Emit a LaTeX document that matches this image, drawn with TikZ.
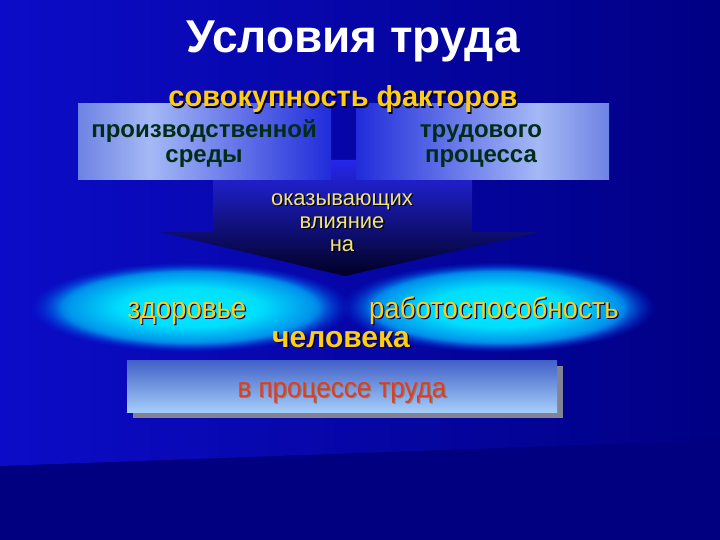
\documentclass[tikz,border=0pt]{standalone}
\usepackage{fontspec}
\usepackage{graphicx}
\usetikzlibrary{fadings}
\setmainfont{Liberation Sans}
\definecolor{bgnavy}{RGB}{0,0,128}
\definecolor{bgtl}{RGB}{12,12,200}
\definecolor{bgtr}{RGB}{0,0,132}
\definecolor{boxedge}{RGB}{110,130,228}
\definecolor{boxlight}{RGB}{165,185,246}
\definecolor{boxblue}{RGB}{32,44,218}
\definecolor{boxtext}{RGB}{0,44,24}
\definecolor{gold}{RGB}{255,205,20}
\definecolor{paleyel}{RGB}{240,228,120}
\definecolor{glowc}{RGB}{0,236,255}
\definecolor{glowi}{RGB}{0,222,252}
\definecolor{glowm}{RGB}{0,150,236}
\definecolor{glowo}{RGB}{0,40,215}
\definecolor{shafttop}{RGB}{38,38,236}
\definecolor{shaftmid}{RGB}{16,16,190}
\definecolor{tipdark}{RGB}{0,0,36}
\definecolor{btop}{RGB}{66,96,200}
\definecolor{bbot}{RGB}{165,205,250}
\definecolor{bshadow}{RGB}{130,132,150}
\definecolor{redtext}{RGB}{226,60,30}
\pgfdeclareradialshading{glow}{\pgfpointorigin}{color(0bp)=(glowc); color(11bp)=(glowi); color(19bp)=(glowm); color(25bp)=(glowo); color(50bp)=(glowo)}
\pgfdeclareradialshading{glowmask}{\pgfpointorigin}{color(0bp)=(pgftransparent!0); color(20bp)=(pgftransparent!0); color(25bp)=(pgftransparent!100); color(50bp)=(pgftransparent!100)}
\pgfdeclarefading{glowfade}{\pgfuseshading{glowmask}}
\newcommand\shd[3][black]{\makebox[0pt][l]{\hspace{1.3pt}\raisebox{-1.3pt}{\textcolor{#1}{#3}}}\textcolor{#2}{#3}}
\tikzset{
  title/.style={font=\fontsize{46}{50}\selectfont\bfseries, text=white, anchor=base, inner sep=0pt},
  headtxt/.style={font=\fontsize{29}{32}\selectfont\bfseries, anchor=base, inner sep=0pt},
  boxtxt/.style={font=\fontsize{24}{25}\selectfont\bfseries, text=boxtext, anchor=base, inner sep=0pt},
  midtxt/.style={font=\fontsize{22}{23}\selectfont, inner sep=0pt, align=center},
  glowtxt/.style={font=\fontsize{30}{32}\selectfont, anchor=base, inner sep=0pt},
  mantxt/.style={font=\fontsize{30}{32}\selectfont\bfseries, anchor=base, inner sep=0pt},
  redtxt/.style={font=\fontsize{28}{30}\selectfont, anchor=base, inner sep=0pt},
  glowshape/.style={shading=glow, path fading=glowfade},
}
\begin{document}
\begin{tikzpicture}[x=1pt,y=-1pt]
\useasboundingbox (0,0) rectangle (720,540);
% background
\fill[bgnavy] (0,0) rectangle (720,540);
\shade[left color=bgtl, right color=bgtr] (0,0) -- (720,0) -- (720,440) -- (0,466) -- cycle;
% arrow
\shade[top color=shafttop, middle color=shaftmid, bottom color=tipdark]
  (213,160) -- (472,160) -- (472,232) -- (540,232) -- (345,276) -- (160,232) -- (213,232) -- cycle;
% top boxes
\shade[left color=boxedge, right color=boxlight] (78,104) rectangle (150,180);
\shade[left color=boxlight, right color=boxblue] (149.5,104) rectangle (331,180);
\shade[left color=boxblue, right color=boxlight] (356,104) rectangle (538.5,180);
\shade[left color=boxlight, right color=boxedge] (538,104) rectangle (609,180);
% glow ellipses
\shade[glowshape] (190,307) ellipse [x radius=160pt, y radius=45pt];
\shade[glowshape] (498,307) ellipse [x radius=157pt, y radius=45pt];
% bottom box
\fill[bshadow] (133,366) rectangle (563,418);
\shade[top color=btop, bottom color=bbot] (127,360) rectangle (557,412);
% texts
\node[title] (ttl) at (353,53) {Условия труда};
\node[headtxt] (fac) at (343,107) {\shd{gold}{совокупность факторов}};
\node[boxtxt] (env1) at (204,138) {производственной};
\node[boxtxt] (env2) at (204,163) {среды};
\node[boxtxt] (lab1) at (481,138) {трудового};
\node[boxtxt] (lab2) at (481,163) {процесса};
\node[midtxt] (infl) at (342,223) {\shd{paleyel}{оказывающих}\\\shd{paleyel}{влияние}\\\shd{paleyel}{на}};
\node[glowtxt] (hlth) at (187,318) {\scalebox{0.92}[1]{\shd[blue!40!black]{gold}{здоровье}}};
\node[glowtxt] (work) at (494,318) {\scalebox{0.92}[1]{\shd[blue!40!black]{gold}{работоспособность}}};
\node[mantxt] (man) at (341,347) {\shd{gold}{человека}};
\node[redtxt] (proc) at (342,397) {\scalebox{0.93}[1]{\shd[gray]{redtext}{в процессе труда}}};
\end{tikzpicture}
\end{document}
